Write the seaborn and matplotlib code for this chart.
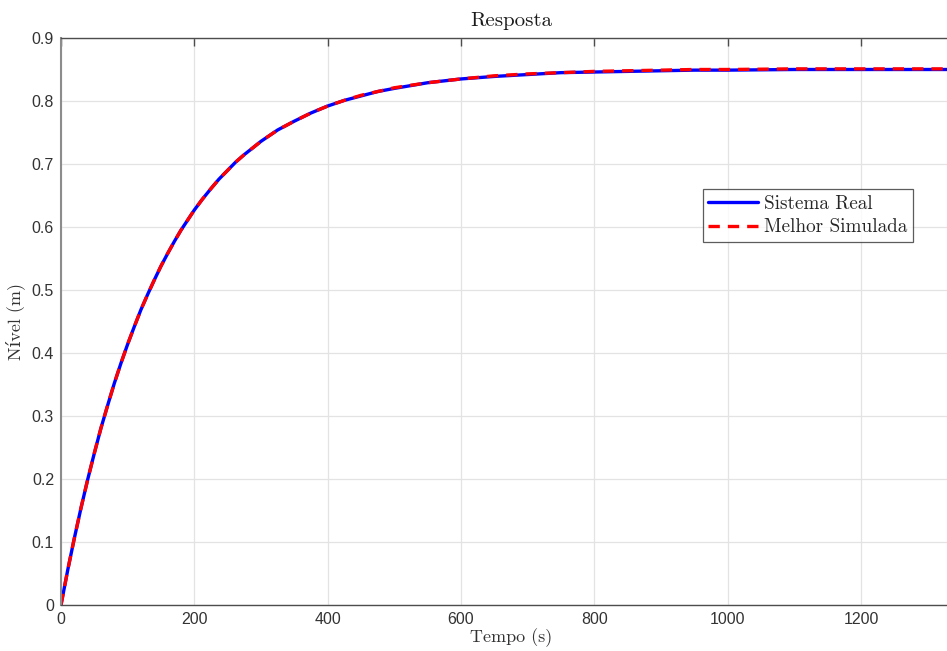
import numpy as np
import pandas as pd
import matplotlib
matplotlib.use("Agg")
import matplotlib.pyplot as plt
import matplotlib.ticker as ticker
import seaborn as sns

# tempo (s) e nivel (m)
tempo = [0, 10, 20, 30, 40, 50, 60, 70, 80, 90, 100, 110, 120, 130, 140, 150,
         160, 170, 180, 190, 200, 212, 225, 237, 250, 262, 275, 287, 300, 325,
         350, 375, 400, 425, 450, 475, 500, 550, 600, 650, 700, 750, 800, 850,
         900, 950, 1000, 1100, 1200, 1300, 1350]
nivel_real = [0.0, 0.055, 0.106, 0.154, 0.199, 0.241, 0.281, 0.317, 0.352, 0.384,
              0.414, 0.442, 0.469, 0.493, 0.516, 0.538, 0.558, 0.577, 0.595, 0.611,
              0.627, 0.644, 0.661, 0.676, 0.690, 0.703, 0.715, 0.725, 0.736, 0.754,
              0.768, 0.781, 0.792, 0.801, 0.808, 0.815, 0.820, 0.829, 0.835, 0.839,
              0.842, 0.845, 0.846, 0.847, 0.848, 0.849, 0.849, 0.850, 0.850, 0.850,
              0.850]
nivel_simulado = [0.0, 0.055, 0.106, 0.154, 0.199, 0.241, 0.281, 0.317, 0.352, 0.384,
                  0.414, 0.442, 0.469, 0.493, 0.516, 0.538, 0.558, 0.577, 0.595, 0.611,
                  0.627, 0.644, 0.661, 0.676, 0.690, 0.703, 0.715, 0.725, 0.736, 0.754,
                  0.768, 0.781, 0.792, 0.801, 0.809, 0.815, 0.821, 0.829, 0.835, 0.840,
                  0.843, 0.845, 0.847, 0.848, 0.849, 0.850, 0.850, 0.851, 0.851, 0.851,
                  0.851]

df = pd.DataFrame({"tempo": tempo, "real": nivel_real, "sim": nivel_simulado})

sns.set_style("white")
plt.rcParams["font.family"] = ["Liberation Sans", "DejaVu Sans"]

W, H = 947, 651
fig = plt.figure(figsize=(W / 100, H / 100), dpi=100)
ax = fig.add_axes([61 / W, 46 / H, 900 / W, 567 / H])

sns.lineplot(data=df, x="tempo", y="real", ax=ax, color=(0, 0, 1), lw=2.4,
             label="Sistema Real")
sns.lineplot(data=df, x="tempo", y="sim", ax=ax, color=(1, 0, 0), lw=2.4,
             label="Melhor Simulada")
ax.lines[1].set_dashes((3.4, 2.4))

ax.set_xlim(0, 1350)
ax.set_ylim(0, 0.9)
ax.xaxis.set_major_locator(ticker.MultipleLocator(200))
ax.yaxis.set_major_locator(ticker.MultipleLocator(0.1))
ax.yaxis.set_major_formatter(ticker.FormatStrFormatter("%g"))
ax.grid(True, color="#e3e3e3", lw=0.9)
ax.set_axisbelow(True)

ax.tick_params(direction="in", length=6, width=1, colors="#4d4d4d",
               labelcolor="#333333", labelsize=11.5, top=True, right=True, pad=5)
for s in ax.spines.values():
    s.set_color("#4d4d4d")
    s.set_linewidth(1)
ax.spines["left"].set_color("#8c8c8c")
ax.spines["left"].set_linewidth(1.5)

serif = ["cmr10", "DejaVu Serif"]
ax.set_title("Resposta", fontfamily=serif, fontsize=15, color="#1a1a1a", pad=9)
ax.set_xlabel("Tempo (s)", fontfamily=serif, fontsize=13, color="#333333", labelpad=1)
ax.set_ylabel("Nível (m)", fontfamily=serif, fontsize=13, color="#333333", labelpad=5)

leg = ax.legend(loc="upper right", bbox_to_anchor=(0.9467, 0.7337), borderaxespad=0,
                prop={"family": serif, "size": 13.8}, frameon=True, fancybox=False,
                handlelength=2.6, handletextpad=0.3, borderpad=0.3, labelspacing=0.3)
leg.get_frame().set_edgecolor("#333333")
leg.get_frame().set_linewidth(0.9)

fig.savefig("out.png", dpi=100)
